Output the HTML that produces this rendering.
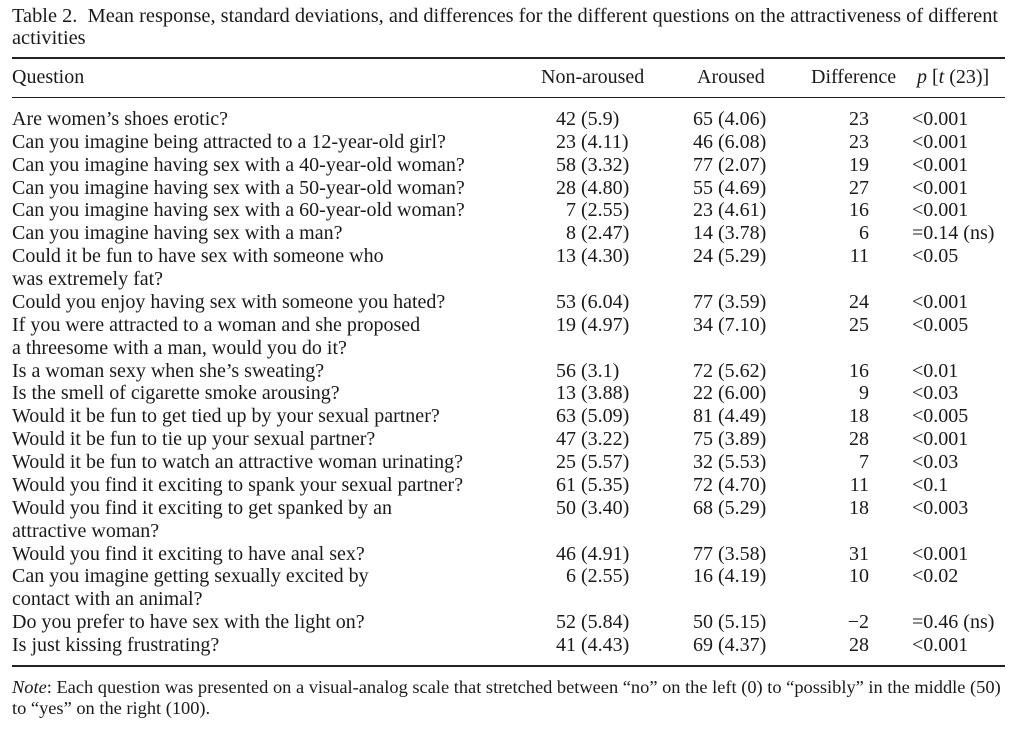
<!DOCTYPE html>
<html><head><meta charset="utf-8">
<style>
body{margin:0;background:#fff;width:1024px;height:732px;position:relative;overflow:hidden;font-family:"Liberation Serif",serif;color:#1a1a1a;font-size:20px}
.t{position:absolute;white-space:nowrap;line-height:22px}
.rule{position:absolute;left:12px;width:993px;background:#222}
.r{text-align:right}
</style></head><body>
<div class="t" style="left:12px;top:5px;font-size:20.4px">Table 2.&nbsp; Mean response, standard deviations, and differences for the different questions on the attractiveness of different</div>
<div class="t" style="left:12px;top:27px;font-size:20.4px">activities</div>
<div class="rule" style="top:57px;height:1.5px"></div>
<div class="t" style="left:12px;top:66px">Question</div>
<div class="t" style="left:541px;top:66px">Non-aroused</div>
<div class="t" style="left:697px;top:66px">Aroused</div>
<div class="t" style="left:811px;top:66px">Difference</div>
<div class="t" style="left:917px;top:66px"><i>p</i> [<i>t</i> (23)]</div>
<div class="rule" style="top:97px;height:1px"></div>
<div id="rows"></div>
<div class="rule" style="top:665px;height:1.5px"></div>
<div class="t" style="left:12px;top:676px;font-size:18.4px"><i>Note</i>: Each question was presented on a visual-analog scale that stretched between “no” on the left (0) to “possibly” in the middle (50)</div>
<div class="t" style="left:12px;top:697px;font-size:18.4px">to “yes” on the right (100).</div>
<script>
const questions=[
["Are women’s shoes erotic?"],
["Can you imagine being attracted to a 12-year-old girl?"],
["Can you imagine having sex with a 40-year-old woman?"],
["Can you imagine having sex with a 50-year-old woman?"],
["Can you imagine having sex with a 60-year-old woman?"],
["Can you imagine having sex with a man?"],
["Could it be fun to have sex with someone who","was extremely fat?"],
["Could you enjoy having sex with someone you hated?"],
["If you were attracted to a woman and she proposed","a threesome with a man, would you do it?"],
["Is a woman sexy when she’s sweating?"],
["Is the smell of cigarette smoke arousing?"],
["Would it be fun to get tied up by your sexual partner?"],
["Would it be fun to tie up your sexual partner?"],
["Would it be fun to watch an attractive woman urinating?"],
["Would you find it exciting to spank your sexual partner?"],
["Would you find it exciting to get spanked by an","attractive woman?"],
["Would you find it exciting to have anal sex?"],
["Can you imagine getting sexually excited by","contact with an animal?"],
["Do you prefer to have sex with the light on?"],
["Is just kissing frustrating?"]];
const nonAroused=["42 (5.9)","23 (4.11)","58 (3.32)","28 (4.80)","7 (2.55)","8 (2.47)","13 (4.30)","53 (6.04)","19 (4.97)","56 (3.1)","13 (3.88)","63 (5.09)","47 (3.22)","25 (5.57)","61 (5.35)","50 (3.40)","46 (4.91)","6 (2.55)","52 (5.84)","41 (4.43)"];
const aroused=["65 (4.06)","46 (6.08)","77 (2.07)","55 (4.69)","23 (4.61)","14 (3.78)","24 (5.29)","77 (3.59)","34 (7.10)","72 (5.62)","22 (6.00)","81 (4.49)","75 (3.89)","32 (5.53)","72 (4.70)","68 (5.29)","77 (3.58)","16 (4.19)","50 (5.15)","69 (4.37)"];
const diffs=["23","23","19","27","16","6","11","24","25","16","9","18","28","7","11","18","31","10","−2","28"];
const pvals=["<0.001","<0.001","<0.001","<0.001","<0.001","=0.14 (ns)","<0.05","<0.001","<0.005","<0.01","<0.03","<0.005","<0.001","<0.03","<0.1","<0.003","<0.001","<0.02","=0.46 (ns)","<0.001"];
const host=document.getElementById('rows');
let line=0;const y0=108,lh=22.87;
function mk(txt,x,y,cls){const d=document.createElement('div');d.className='t'+(cls?' '+cls:'');d.textContent=txt;d.style.top=y+'px';if(cls==='r'){d.style.right=(1024-x)+'px';}else d.style.left=x+'px';host.appendChild(d);return d;}
questions.forEach((q,i)=>{
  const y=y0+line*lh;
  const a=mk(q[0],12,y);
  
  
  if(q[1]){const b=mk(q[1],12,y+lh);
    
    }
  const na=nonAroused[i];const n1=mk(na,na.indexOf(' ')===1?566:556,y);
  
  
  const ar=aroused[i];const n2=mk(ar,ar.indexOf(' ')===1?703:693,y);
  
  
  const n3=mk(diffs[i],869,y,'r');
  
  
  const n4=mk(pvals[i],912,y);
  
  
  line+=q[1]?2:1;
});
</script>
</body></html>
